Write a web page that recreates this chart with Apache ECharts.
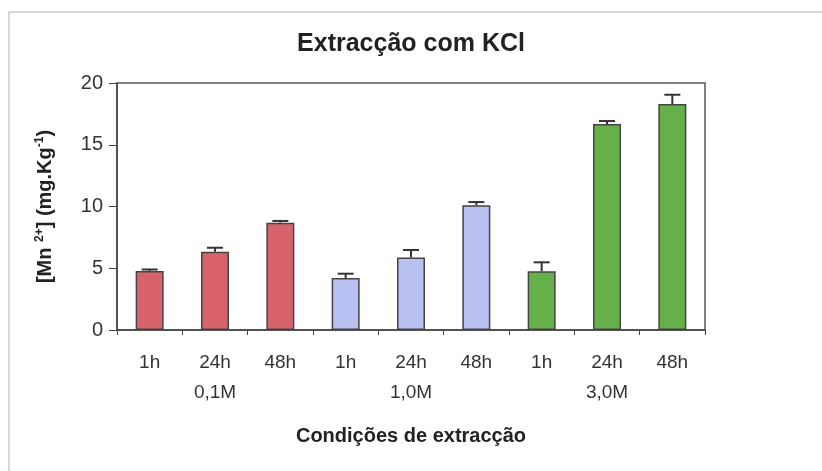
<!DOCTYPE html>
<html>
<head>
<meta charset="utf-8">
<script src="https://cdn.jsdelivr.net/npm/echarts@6/dist/echarts.min.js"></script>
<style>
  html, body { margin: 0; padding: 0; background: #fff; }
  #chart { width: 822px; height: 471px; }
</style>
</head>
<body>
<div id="chart"></div>
<script>
const hours = ['1h', '24h', '48h', '1h', '24h', '48h', '1h', '24h', '48h'];
const groups = ['0,1M', '1,0M', '3,0M'];
const values = [4.78, 6.33, 8.69, 4.21, 5.88, 10.1, 4.75, 16.68, 18.3];
const errors = [0.12, 0.33, 0.14, 0.35, 0.6, 0.26, 0.73, 0.24, 0.75];
const yTicks = [0, 5, 10, 15, 20];

const groupColors = ['#d9636c', '#b9c1f2', '#66b04a'];

const chart = echarts.init(document.getElementById('chart'), null, { renderer: 'canvas' });

const font = 'Liberation Sans, Arial, sans-serif';

const option = {
  backgroundColor: '#fff',
  animation: false,
  title: {
    text: 'Extracção com KCl',
    left: 'center',
    top: 27,
    textStyle: { fontFamily: font, fontSize: 25, fontWeight: 'bold', color: '#222' }
  },
  graphic: [{
    type: 'rect',
    shape: { x: 9, y: 12, width: 830, height: 480 },
    style: { fill: 'none', stroke: '#b0b0b0', lineWidth: 1 },
    silent: true
  }],
  grid: {
    left: 117, right: 117, top: 83, bottom: 141,
    show: true, borderColor: '#555', borderWidth: 1.5, backgroundColor: '#fff'
  },
  xAxis: {
    type: 'category',
    data: hours,
    name: 'Condições de extracção',
    nameLocation: 'middle',
    nameGap: 96,
    nameTextStyle: { fontFamily: font, fontSize: 20, fontWeight: 'bold', color: '#222' },
    axisLine: { lineStyle: { color: '#444', width: 1.5 } },
    axisTick: { show: true, length: 5, lineStyle: { color: '#444' } },
    axisLabel: {
      fontFamily: font, fontSize: 19, color: '#333', margin: 18, lineHeight: 30,
      formatter: (v, i) => (i % 3 === 1 ? v + '\n' + groups[(i - 1) / 3] : v)
    }
  },
  yAxis: {
    type: 'value',
    min: yTicks[0],
    max: yTicks[yTicks.length - 1],
    interval: 5,
    name: '{b|[Mn }{s|2+}{b|] (mg.Kg}{s|-1}{b|)}',
    nameLocation: 'middle',
    nameRotate: 90,
    nameGap: 62,
    nameTextStyle: {
      rich: {
        b: { fontFamily: font, fontSize: 20, fontWeight: 'bold', color: '#222', lineHeight: 21, verticalAlign: 'bottom' },
        s: { fontFamily: font, fontSize: 12, fontWeight: 'bold', color: '#222', lineHeight: 13, verticalAlign: 'top' }
      }
    },
    splitLine: { show: false },
    axisLine: { show: true, lineStyle: { color: '#444', width: 1.5 } },
    axisTick: { show: true, length: 8, lineStyle: { color: '#444' } },
    axisLabel: { fontFamily: font, fontSize: 20, color: '#333', margin: 14 }
  },
  series: [
    {
      type: 'bar',
      barWidth: 28,
      data: values.map((v, i) => ({
        value: v,
        itemStyle: { color: groupColors[Math.floor(i / 3)] }
      })),
      itemStyle: { borderColor: '#444', borderWidth: 1.5 },
      z: 2
    },
    {
      type: 'custom',
      z: 3,
      data: values.map((v, i) => [i, v, v + errors[i]]),
      renderItem: (params, api) => {
        const base = api.coord([api.value(0), api.value(1)]);
        const top = api.coord([api.value(0), api.value(2)]);
        const half = 8;
        const st = { stroke: '#333', lineWidth: 2 };
        return {
          type: 'group',
          children: [
            { type: 'line', shape: { x1: base[0], y1: base[1], x2: top[0], y2: top[1] }, style: st },
            { type: 'line', shape: { x1: top[0] - half, y1: top[1], x2: top[0] + half, y2: top[1] }, style: st }
          ]
        };
      }
    }
  ]
};

chart.setOption(option);
</script>
</body>
</html>
